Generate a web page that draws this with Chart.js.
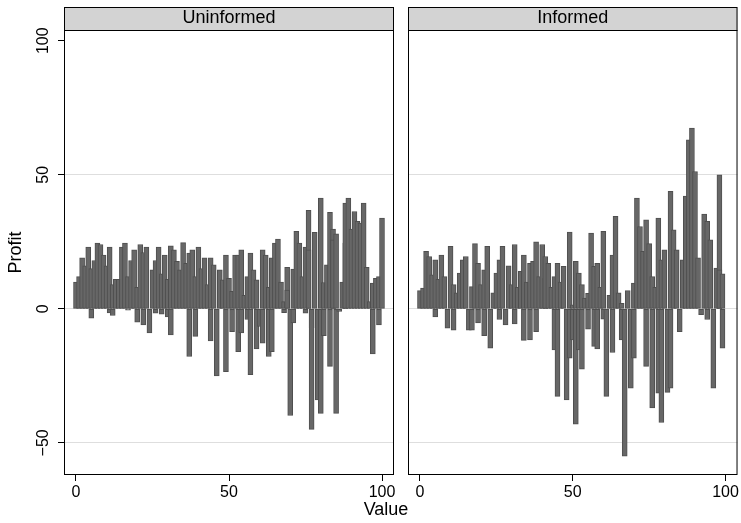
<!DOCTYPE html>
<html>
<head>
<meta charset="utf-8">
<script src="https://cdn.jsdelivr.net/npm/chart.js@4.4.1/dist/chart.umd.min.js"></script>
<style>
  body { margin: 0; background: #fff; width: 741px; height: 523px; position: relative; overflow: hidden; font-family: "Liberation Sans", Arial, sans-serif; }
  #left { position: absolute; left: 0; top: 0; }
  #right { position: absolute; left: 400px; top: 0; }
  #xtitle { position: absolute; left: 336px; width: 100px; top: 498px; text-align: center; font-size: 18px; line-height: 22px; color: #000; }
</style>
</head>
<body>
<canvas id="left" width="400" height="523"></canvas>
<canvas id="right" width="341" height="523"></canvas>
<div id="xtitle">Value</div>
<script>
var panelNames = ["Uninformed", "Informed"];
var xTicks = [0, 50, 100];
var yTicks = [-50, 0, 50, 100];

// value / profit pairs
var uninformedValue = [
  0, 1, 2, 3, 4, 5, 5, 6, 7, 8,
  9, 10, 11, 11, 12, 12, 13, 14, 15, 16,
  17, 17, 18, 19, 20, 20, 21, 22, 22, 23,
  24, 25, 26, 26, 27, 28, 28, 29, 30, 30,
  31, 31, 32, 33, 34, 35, 36, 37, 37, 38,
  39, 39, 40, 41, 42, 43, 44, 44, 45, 46,
  47, 48, 49, 49, 50, 51, 51, 52, 53, 53,
  54, 54, 55, 56, 56, 57, 57, 58, 59, 59,
  60, 61, 61, 62, 63, 63, 64, 64, 65, 66,
  67, 68, 68, 69, 69, 70, 71, 71, 72, 73,
  74, 75, 75, 76, 76, 77, 77, 78, 79, 80,
  80, 81, 81, 82, 83, 83, 84, 84, 85, 85,
  86, 87, 88, 88, 89, 90, 91, 92, 93, 94,
  95, 96, 97, 97, 98, 99, 99, 100
];
var uninformedProfit = [
  10, 12, 19, 16, 23, -3.5, 15, 18, 24.5, 24,
  20, 16, 23, -1.5, -2.5, 9, 11, 11, 23, 24.5,
  -0.5, 12, 18, 22, -5, 8, 24, -6, 21, 23,
  -9, 14.5, 18, -1.6, 23, -2, 13, 20, -3, 11,
  23.5, -9.7, 22, 17.7, 14.5, 24.7, 17, -17.8, 20.8, 22,
  -10.3, 12, 23, 15, 19, 9, 19, -12, 16.4, -25,
  14.5, 10.8, 20, -23.5, 11.4, 6.5, -8.5, 20, 20, -16,
  22, -9, 5, -4, 12, 20.8, -24.6, 14.5, -15, 10.8,
  -6.6, 22, -12.8, 20, -17.8, 8, 19, -16, 24.5, 26,
  10, 2.7, -1.4, 15.5, 7, -39.8, 14.8, -5.3, 28.9, 24.5,
  12, -1.6, 23, 36.7, 22, -7, -45, 28.5, -34, -39,
  41.3, -10, 9.8, 16.4, 36, -21.5, 29.7, 25.7, -39, 28,
  -1, 10, 24.5, 39.4, 41.3, 29.7, 36.3, 32.6, 32, 39.4,
  15.5, 2.7, 9.6, -16.8, 11.4, -6, 12, 33.8
];
var informedValue = [
  0, 1, 2, 3, 4, 5, 5, 6, 7, 8,
  9, 10, 11, 11, 12, 13, 14, 15, 16, 17,
  17, 18, 19, 19, 20, 21, 21, 22, 23, 24,
  25, 26, 26, 27, 28, 29, 30, 31, 31, 32,
  33, 34, 34, 35, 36, 36, 37, 38, 38, 39,
  40, 41, 41, 42, 43, 44, 44, 45, 45, 46,
  47, 48, 49, 49, 50, 50, 51, 51, 52, 52,
  53, 53, 54, 55, 55, 56, 57, 57, 58, 58,
  59, 60, 60, 61, 62, 63, 63, 64, 65, 66,
  66, 67, 68, 69, 70, 70, 71, 72, 73, 74,
  74, 75, 76, 76, 77, 78, 78, 79, 79, 80,
  81, 82, 82, 83, 84, 85, 86, 87, 88, 89,
  90, 91, 92, 93, 94, 94, 95, 96, 97, 98,
  98, 99, 99
];
var informedProfit = [
  6.8, 7.7, 21.4, 19.5, 12.7, -3, 18.3, 11, 20, 12,
  -7.2, 23.3, -8, 9, 6, 13.3, 18.3, 19.5, -8, -8,
  8.3, 24.3, -5.3, 17, 9, -10, 14.5, 23.3, -14.7, 6,
  13.3, -4, 18.3, 23.3, -6, 16, 9, 24, -5.6, 8,
  14, -11.8, 20, 10, 17, -11.6, 17.7, -8.5, 25, 12,
  24, 11.4, 19.5, 17, 8, -15.3, 12, 17, -32.7, 10,
  15.8, -34, 28.6, -18.4, 1.5, -11.6, -43, 17.7, 13.3, -15.3,
  9, -22.5, 4, 5.8, -7.6, 28.2, -14, 15.8, -15, 17,
  8, 28.9, -3.9, -32.7, 5, 20, -16.3, 34.5, 6, 2,
  -11.6, -55, 6.8, -29.6, 9.6, -18.4, 41.3, 30.7, 21.4, 33.2,
  -21.5, 24.3, -37, 12, 8, 33.8, -31.5, -42.4, 18.3, 22,
  -31.2, 43.8, -29.6, 29.5, 22, -8.5, 18.3, 42, 63, 67.4,
  51.2, 19, -2.2, 35.3, 32.6, -4, 25.7, -29.6, 15.2, 50,
  14.5, -14.7, 13
];

var fontFamily = '"Liberation Sans", Arial, sans-serif';

// grey strip with the panel name, plus black frame round the plot
var panelBox = {
  id: "panelBox",
  afterDraw: function (chart, args, opts) {
    var ctx = chart.ctx, a = chart.chartArea;
    ctx.save();
    ctx.fillStyle = "#d3d3d3";
    ctx.fillRect(a.left, 7, a.right - a.left, a.top - 7);
    ctx.strokeStyle = "#000";
    ctx.lineWidth = 1;
    ctx.strokeRect(a.left + 0.5, 7.5, a.right - a.left - 1, a.bottom - 8);
    ctx.beginPath();
    ctx.moveTo(a.left, a.top + 0.5);
    ctx.lineTo(a.right, a.top + 0.5);
    ctx.stroke();
    ctx.fillStyle = "#000";
    ctx.font = "18px " + fontFamily;
    ctx.textAlign = "center";
    ctx.textBaseline = "middle";
    ctx.fillText(opts.title, (a.left + a.right) / 2, 18);
    ctx.restore();
  }
};

function minusLabel(v) {
  return v < 0 ? "\u2212" + Math.abs(v) : String(v);
}

function makePanel(id, title, values, profits, isLeft) {
  var points = [];
  for (var i = 0; i < values.length; i++) {
    points.push({ x: values[i], y: profits[i] });
  }
  return new Chart(document.getElementById(id), {
    type: "bar",
    data: {
      datasets: [{
        data: points,
        backgroundColor: "#676767",
        borderColor: "#4f4f4f",
        borderWidth: 1,
        borderSkipped: false,
        barThickness: 5
      }]
    },
    options: {
      responsive: false,
      animation: false,
      layout: {
        padding: isLeft ? { top: 30, left: 0, right: 6, bottom: 0 } : { top: 30, left: 8, right: 3, bottom: 0 }
      },
      plugins: {
        legend: { display: false },
        tooltip: { enabled: false },
        panelBox: { title: title }
      },
      scales: {
        x: {
          type: "linear",
          min: -3.92,
          max: 103.92,
          offset: false,
          afterBuildTicks: function (s) { s.ticks = xTicks.map(function (v) { return { value: v }; }); },
          afterFit: function (s) { s.height = 48; },
          grid: { offset: false, drawOnChartArea: false, drawTicks: true, tickLength: 6, tickColor: "#000" },
          border: { display: false },
          ticks: { font: { family: fontFamily, size: 16 }, color: "#000", padding: 2, maxRotation: 0, autoSkip: false }
        },
        y: {
          min: -62,
          max: 104,
          afterBuildTicks: function (s) { s.ticks = yTicks.map(function (v) { return { value: v }; }); },
          afterFit: function (s) { s.width = isLeft ? 64 : 0; },
          grid: {
            color: function (c) { return (c.tick && c.tick.value === 100) ? "rgba(0,0,0,0)" : "#dedede"; },
            drawTicks: isLeft,
            tickLength: 6,
            tickColor: "#000"
          },
          border: { display: false },
          ticks: {
            display: isLeft,
            font: { family: fontFamily, size: 16 },
            color: "#000",
            padding: 1,
            minRotation: 90,
            maxRotation: 90,
            crossAlign: "center",
            callback: minusLabel
          },
          title: {
            display: isLeft,
            text: "Profit",
            font: { family: fontFamily, size: 18 },
            color: "#000",
            padding: { top: 5, bottom: 0 }
          }
        }
      }
    },
    plugins: [panelBox]
  });
}

makePanel("left", panelNames[0], uninformedValue, uninformedProfit, true);
makePanel("right", panelNames[1], informedValue, informedProfit, false);
</script>
</body>
</html>
